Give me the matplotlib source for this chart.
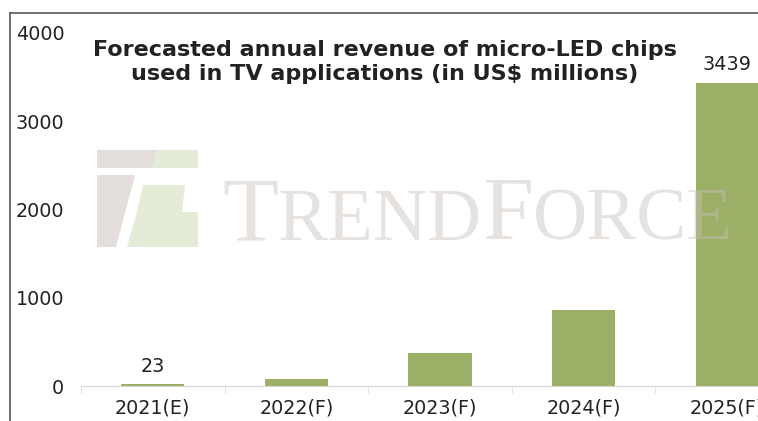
import matplotlib.pyplot as plt
from matplotlib.patches import Polygon
from matplotlib.lines import Line2D

years = ['2021(E)', '2022(F)', '2023(F)', '2024(F)', '2025(F)']
revenue = [23, 79, 374, 866, 3439]
shown = ['23', '', '', '', '3439']
yticks = [0, 1000, 2000, 3000, 4000]

W, H = 758, 421
fig = plt.figure(figsize=(W / 100, H / 100), dpi=100)


def fx(x):
    return x / W


def fy(y):
    return (H - y) / H


ax = fig.add_axes([fx(81), fy(386), fx(799) - fx(81), fy(33) - fy(386)])
x = range(len(years))
ax.bar(x, revenue, width=0.44, color='#9bb066', zorder=2)
for i, (v, s) in enumerate(zip(revenue, shown)):
    if s:
        ax.annotate(s, (i, v), xytext=(0, 6), textcoords='offset points',
                    ha='center', va='bottom', fontsize=13.8, color='#222222')

ax.set_xlim(-0.5, 4.5)
ax.set_ylim(0, 4000)
ax.set_yticks(yticks)
ax.set_xticks(list(x))
ax.set_xticklabels(years)
ax.set_xticks([i - 0.5 for i in range(len(years) + 1)], minor=True)
ax.tick_params(axis='both', which='major', length=0, labelsize=13.8,
               labelcolor='#222222')
ax.tick_params(axis='y', pad=12)
ax.tick_params(axis='x', pad=9)
ax.tick_params(axis='x', which='minor', length=5, color='#d9d9d9')
for s in ['left', 'right', 'top']:
    ax.spines[s].set_visible(False)
ax.spines['bottom'].set_color('#d9d9d9')

fig.text(fx(385), fy(62), 'Forecasted annual revenue of micro-LED chips\nused in TV applications (in US$ millions)',
         ha='center', va='center', fontsize=16, fontweight='bold',
         color='#222222', linespacing=1.3)

# watermark
gray = dict(color='#c9bfba', alpha=0.5, lw=0)
green = dict(color='#c5d4a8', alpha=0.45, lw=0)
shapes = [
    ([(97, 150), (157, 150), (152, 168), (97, 168)], gray),
    ([(157, 150), (198, 150), (198, 168), (152, 168)], green),
    ([(97, 175), (135, 175), (116, 247), (97, 247)], gray),
    ([(143, 185), (185, 185), (182, 212), (137, 212)], green),
    ([(137, 212), (198, 212), (198, 247), (127, 247)], green),
]
for pts, st in shapes:
    fig.patches.append(Polygon([(fx(a), fy(b)) for a, b in pts], closed=True,
                               transform=fig.transFigure, zorder=5, **st))

fig.canvas.draw()
r = fig.canvas.get_renderer()
xpos = 222
for part, size in [('T', 66), ('REND', 54), ('F', 66), ('ORCE', 54)]:
    t = fig.text(fx(xpos), fy(240), part, fontsize=size, family='Liberation Serif',
                 color='#c9bfba', alpha=0.45, ha='left', va='baseline', zorder=5)
    xpos += t.get_window_extent(r).width

# frame
fig.add_artist(Line2D([fx(10), fx(10)], [fy(13), 0], transform=fig.transFigure,
                      color='#595959', lw=1.2))
fig.add_artist(Line2D([fx(10), 1], [fy(13), fy(13)], transform=fig.transFigure,
                      color='#595959', lw=1.2))

fig.savefig('out.png', dpi=100)
